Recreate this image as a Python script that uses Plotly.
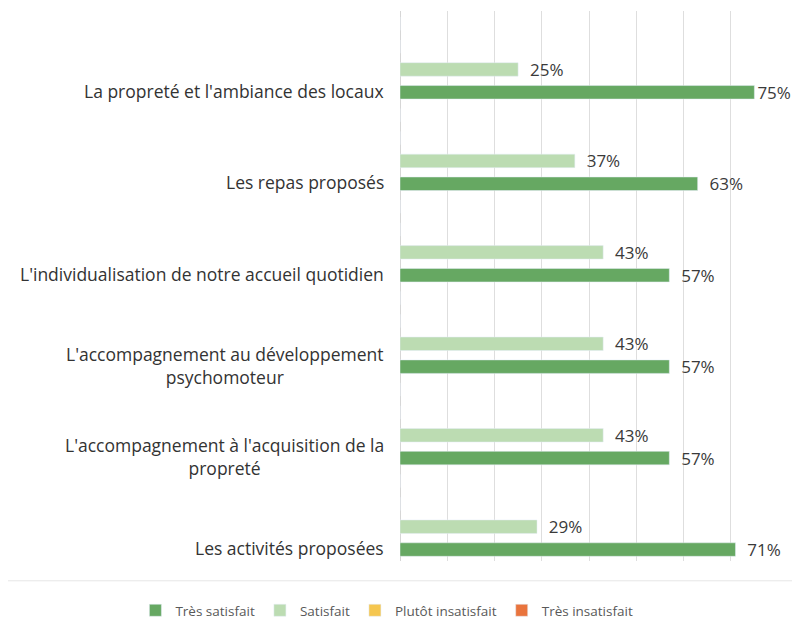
import plotly.graph_objects as go

categories = [
    "La propreté et l'ambiance des locaux",
    "Les repas proposés",
    "L'individualisation de notre accueil quotidien",
    "L'accompagnement au développement<br>psychomoteur",
    "L'accompagnement à l'acquisition de la<br>propreté",
    "Les activités proposées",
]
tres_satisfait = [75, 63, 57, 57, 57, 71]
satisfait = [25, 37, 43, 43, 43, 29]
plutot_insatisfait = [0, 0, 0, 0, 0, 0]
tres_insatisfait = [0, 0, 0, 0, 0, 0]

FONT = "Open Sans"
PAD = "\u00a0\u00a0"
fig = go.Figure()

# order of traces: top slot to bottom slot inside each group (y axis reversed)
fig.add_trace(go.Bar(name="Très insatisfait", y=categories, x=tres_insatisfait,
                     orientation="h", marker_color="#e9743d"))
fig.add_trace(go.Bar(name="Plutôt insatisfait", y=categories, x=plutot_insatisfait,
                     orientation="h", marker_color="#f5c64f"))
fig.add_trace(go.Bar(name="Satisfait", y=categories, x=satisfait, orientation="h",
                     marker_color="#bcdcb2",
                     texttemplate=PAD + "%{x}%", textposition="outside",
                     constraintext="none", cliponaxis=False,
                     textfont=dict(family=FONT, size=17, color="#3a3a3a")))
# labels close to the right edge sit tighter against their bar (as in Excel)
dark_templates = [("%{x}%" if v >= 74 else PAD + "%{x}%") for v in tres_satisfait]
fig.add_trace(go.Bar(name="Très satisfait", y=categories, x=tres_satisfait, orientation="h",
                     marker_color="#66a862",
                     texttemplate=dark_templates, textposition="outside",
                     constraintext="none", cliponaxis=False,
                     textfont=dict(family=FONT, size=17, color="#3a3a3a")))

for c in categories:
    fig.add_annotation(x=0, xref="paper", xanchor="right", xshift=-14,
                       y=c, yref="y", yshift=-33, text=c, align="center",
                       showarrow=False,
                       font=dict(family=FONT, size=17.5, color="#333333"))

fig.add_shape(type="line", xref="paper", yref="paper", x0=-1.037, x1=1.058,
              y0=-0.036, y1=-0.036, line=dict(color="#e6e6e6", width=1))

fig.update_layout(
    width=792, height=621,
    margin=dict(l=392, r=22, t=3, b=63),
    barmode="group", bargap=0, bargroupgap=0.41,
    plot_bgcolor="white", paper_bgcolor="white",
    font=dict(family=FONT, color="#333333"),
    xaxis=dict(range=[0, 80], dtick=10, showticklabels=False, showgrid=True,
               gridcolor="#dedede", gridwidth=1, zeroline=True, zerolinecolor="#d6d6d6",
               zerolinewidth=1, showline=False, ticks=""),
    yaxis=dict(autorange="reversed", showticklabels=False, showgrid=False,
               ticks="", showline=False),
    legend=dict(orientation="h", x=-0.70, xanchor="left",
                y=-0.09, yanchor="middle", traceorder="reversed",
                font=dict(family=FONT, size=13.5, color="#595959")),
)

fig.write_html("out.html")
